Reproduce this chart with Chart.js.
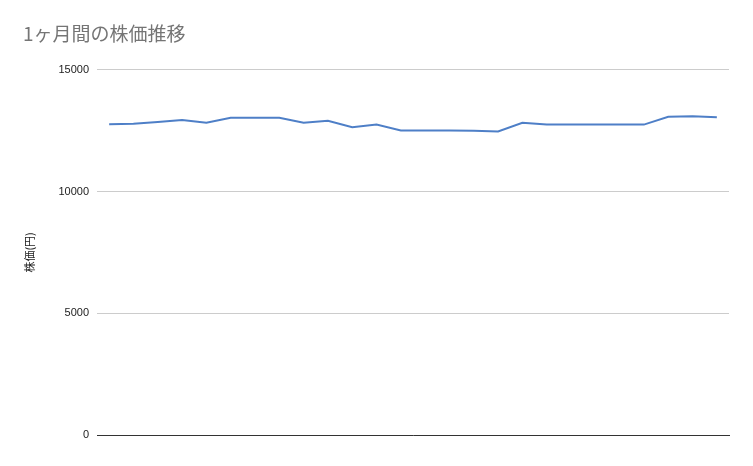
<!DOCTYPE html>
<html>
<head>
<meta charset="utf-8">
<script src="https://cdn.jsdelivr.net/npm/chart.js@4"></script>
<style>
  html, body { margin: 0; padding: 0; background: #fff; }
  #wrap { width: 753px; height: 466px; }
</style>
</head>
<body>
<div id="wrap"><canvas id="chart1" width="753" height="466"></canvas></div>
<script>
// 26 trading days, no date labels shown
const days = ['1', '2', '3', '4', '5', '6', '7', '8', '9', '10', '11', '12', '13',
              '14', '15', '16', '17', '18', '19', '20', '21', '22', '23', '24', '25', '26'];
const prices = [12760, 12780, 12860, 12940, 12830, 13030, 13030, 13030, 12830, 12910, 12640, 12750, 12510,
                12510, 12510, 12500, 12470, 12820, 12750, 12750, 12750, 12750, 12750, 13070, 13090, 13050];
const yTicks = [0, 5000, 10000, 15000];

const ctx1 = document.getElementById('chart1').getContext('2d');
const chart1 = new Chart(ctx1, {
    type: 'line',
    data: {
        labels: days,
        datasets: [{
            label: '株価',
            data: prices,
            borderColor: '#4e7fc7',
            backgroundColor: '#4e7fc7',
            borderWidth: 2,
            pointRadius: 0,
            fill: false,
            tension: 0
        }]
    },
    options: {
        responsive: false,
        animation: false,
        layout: {
            padding: { left: 23, right: 24, top: 22, bottom: 31 }
        },
        plugins: {
            legend: { display: false },
            tooltip: { enabled: false },
            title: {
                display: true,
                text: '1ヶ月間の株価推移',
                align: 'start',
                color: '#757575',
                font: { family: '"Noto Sans CJK JP", "Noto Sans", sans-serif', size: 19, weight: 'normal' },
                padding: { top: 0, bottom: 25 }
            }
        },
        scales: {
            x: {
                offset: true,
                ticks: { display: false },
                grid: { display: false, drawTicks: false },
                border: { display: true, color: '#333333', width: 1 }
            },
            y: {
                min: 0,
                max: 15000,
                afterFit: function (axis) { axis.width = 74; },
                afterBuildTicks: function (axis) {
                    axis.ticks = yTicks.map(v => ({ value: v }));
                },
                ticks: {
                    color: '#222222',
                    padding: 8,
                    font: { family: '"Liberation Sans", Arial, sans-serif', size: 11 },
                    callback: function (v) { return String(v); }
                },
                grid: { color: '#cccccc', drawTicks: false },
                border: { display: false },
                title: {
                    display: true,
                    text: '株価(円)',
                    color: '#222222',
                    padding: { top: 0, bottom: 0, left: 1 },
                    font: { family: '"Noto Sans CJK JP", sans-serif', size: 11 }
                }
            }
        }
    }
});
</script>
</body>
</html>
